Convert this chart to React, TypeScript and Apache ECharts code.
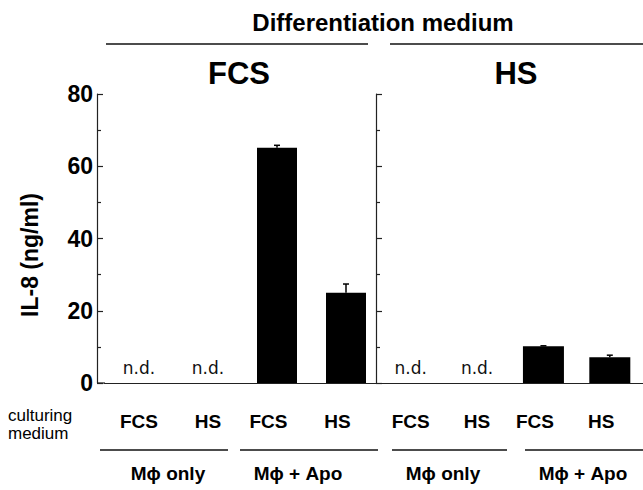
import React, { useEffect, useRef } from "react";
import * as echarts from "echarts";

// ---- data ----
const culturingCategories = ["FCS", "HS", "FCS", "HS"];
const panelTitles = ["FCS", "HS"];
const groupLabels = ["Mϕ only", "Mϕ + Apo", "Mϕ only", "Mϕ + Apo"];
const fcsPanelValues = [0, 0, 65.1, 25.0];
const fcsPanelErrorTops = [null, null, 65.8, 27.4];
const hsPanelValues = [0, 0, 10.2, 7.1];
const hsPanelErrorTops = [null, null, 10.3, 7.7];
const notDetected = [true, true, false, false];
const yMin = 0;
const yMax = 80;
const yInterval = 20;

const FONT = "'Liberation Sans', Arial, Helvetica, sans-serif";

function barData(values: number[]) {
  return values.map((v, i) =>
    notDetected[i]
      ? { value: v, label: { show: true, formatter: "n.d." } }
      : { value: v }
  );
}

function errData(tops: (number | null)[], values: number[]) {
  const out: any[] = [];
  tops.forEach((t, i) => {
    if (t !== null) out.push([i, values[i], t]);
  });
  return out;
}

const errRender = (params: any, api: any) => {
  const x = api.value(0);
  const base = api.coord([x, api.value(1)]);
  const top = api.coord([x, api.value(2)]);
  return {
    type: "group",
    children: [
      {
        type: "line",
        shape: { x1: base[0], y1: base[1], x2: top[0], y2: top[1] },
        style: { stroke: "#000", lineWidth: 1.5 },
      },
      {
        type: "line",
        shape: { x1: top[0] - 3, y1: top[1], x2: top[0] + 3, y2: top[1] },
        style: { stroke: "#000", lineWidth: 1.5 },
      },
    ],
  };
};

function xAxisData() {
  return culturingCategories.map((c, i) =>
    notDetected[i] ? c : { value: c, textStyle: { padding: [0, 17, 0, 0] } }
  );
}

export default function App() {
  const ref = useRef<HTMLDivElement>(null);
  useEffect(() => {
    if (!ref.current) return;
    document.body.style.margin = "0";
    const chart = echarts.init(ref.current, undefined, { renderer: "svg" });
    const axisLine = { show: true, lineStyle: { color: "#222", width: 1.2 } };
    const tickLine = { color: "#222", width: 1.2 };
    const xAxisCommon = {
      type: "category" as const,
      data: xAxisData(),
      axisLine,
      axisTick: { show: false },
      axisLabel: {
        margin: 29,
        fontFamily: FONT,
        fontWeight: "bold" as const,
        fontSize: 19,
        color: "#000",
      },
    };
    const yAxisCommon = {
      type: "value" as const,
      min: yMin,
      max: yMax,
      interval: yInterval,
      splitLine: { show: false },
      axisLine,
      axisTick: { show: true, inside: true, length: 6, lineStyle: tickLine },
      minorTick: { show: true, splitNumber: 2, length: 4, lineStyle: tickLine },
    };
    const labelStyle = {
      position: "top" as const,
      distance: 7,
      fontFamily: "'DejaVu Sans', Verdana, sans-serif",
      fontSize: 17,
      color: "#111",
    };
    const option: any = {
      animation: false,
      backgroundColor: "#fff",
      grid: [
        { left: 104.5, right: 262.5, top: 94, bottom: 107 },
        { left: 377.5, right: -6.5, top: 94, bottom: 107 },
      ],
      xAxis: [
        { ...xAxisCommon, gridIndex: 0 },
        { ...xAxisCommon, gridIndex: 1 },
      ],
      yAxis: [
        {
          ...yAxisCommon,
          gridIndex: 0,
          offset: 7.5,
          axisLabel: {
            margin: 4,
            fontFamily: FONT,
            fontWeight: "bold",
            fontSize: 23,
            color: "#000",
          },
        },
        {
          ...yAxisCommon,
          gridIndex: 1,
          offset: 1.5,
          axisLabel: { show: false },
        },
      ],
      series: [
        {
          type: "bar",
          xAxisIndex: 0,
          yAxisIndex: 0,
          barWidth: 40,
          itemStyle: { color: "#000" },
          label: labelStyle,
          data: barData(fcsPanelValues),
        },
        {
          type: "bar",
          xAxisIndex: 1,
          yAxisIndex: 1,
          barWidth: 41,
          itemStyle: { color: "#000" },
          label: labelStyle,
          data: barData(hsPanelValues),
        },
        {
          type: "custom",
          xAxisIndex: 0,
          yAxisIndex: 0,
          renderItem: errRender,
          data: errData(fcsPanelErrorTops, fcsPanelValues),
          z: 1,
        },
        {
          type: "custom",
          xAxisIndex: 1,
          yAxisIndex: 1,
          renderItem: errRender,
          data: errData(hsPanelErrorTops, hsPanelValues),
          z: 1,
        },
      ],
      graphic: [
        {
          type: "text",
          x: 383,
          y: 22,
          style: {
            text: "Differentiation medium",
            font: `bold 24px ${FONT}`,
            fill: "#000",
            align: "center",
            verticalAlign: "middle",
          },
        },
        { type: "line", shape: { x1: 106, y1: 44, x2: 368, y2: 44 }, style: { stroke: "#111", lineWidth: 1.3 } },
        { type: "line", shape: { x1: 390, y1: 44, x2: 643, y2: 44 }, style: { stroke: "#111", lineWidth: 1.3 } },
        {
          type: "text",
          x: 239,
          y: 73,
          style: { text: panelTitles[0], font: `bold 31px ${FONT}`, fill: "#000", align: "center", verticalAlign: "middle" },
        },
        {
          type: "text",
          x: 516,
          y: 73,
          style: { text: panelTitles[1], font: `bold 31px ${FONT}`, fill: "#000", align: "center", verticalAlign: "middle" },
        },
        {
          type: "text",
          x: 30,
          y: 255,
          rotation: Math.PI / 2,
          style: { text: "IL-8 (ng/ml)", font: `bold 23px ${FONT}`, fill: "#000", align: "center", verticalAlign: "middle" },
        },
        { type: "line", shape: { x1: 97, y1: 383, x2: 105, y2: 383 }, style: { stroke: "#222", lineWidth: 1.2 } },
        {
          type: "text",
          x: 8,
          y: 424,
          style: {
            text: "culturing\nmedium",
            font: `17px ${FONT}`,
            lineHeight: 18,
            fill: "#000",
            align: "left",
            verticalAlign: "middle",
          },
        },
        { type: "line", shape: { x1: 100, y1: 450, x2: 228, y2: 450 }, style: { stroke: "#111", lineWidth: 1.3 } },
        { type: "line", shape: { x1: 240, y1: 450, x2: 378, y2: 450 }, style: { stroke: "#111", lineWidth: 1.3 } },
        { type: "line", shape: { x1: 392, y1: 450, x2: 507, y2: 450 }, style: { stroke: "#111", lineWidth: 1.3 } },
        { type: "line", shape: { x1: 525, y1: 450, x2: 643, y2: 450 }, style: { stroke: "#111", lineWidth: 1.3 } },
        ...[168, 298, 443, 583].map((cx, i) => ({
          type: "text",
          x: cx,
          y: 473,
          style: { text: groupLabels[i], font: `bold 19px ${FONT}`, fill: "#000", align: "center", verticalAlign: "middle" },
        })),
      ],
    };
    chart.setOption(option);
    return () => chart.dispose();
  }, []);
  return (
    <div
      ref={ref}
      style={{ position: "fixed", left: 0, top: 0, width: 643, height: 490 }}
    />
  );
}
